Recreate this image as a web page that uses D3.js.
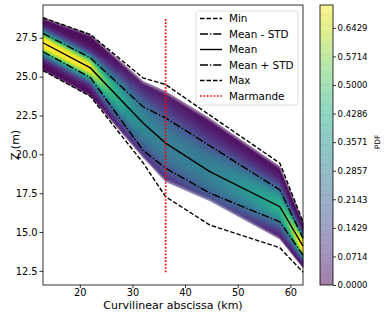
<!DOCTYPE html>
<html>
<head>
<meta charset="utf-8">
<script src="https://cdn.jsdelivr.net/npm/d3@7"></script>
<style>
body { margin: 0; background: #fff; }
text { font-family: "DejaVu Sans", sans-serif; fill: #000; }
</style>
</head>
<body>
<div id="chart"></div>
<script>
// Water level statistics along the river (km -> Z in m)
var stations = [13, 22, 32, 36.3, 44.7, 58, 62.4];
var zMin = [25.39, 23.73, 19.46, 17.27, 15.45, 13.99, 12.41];
var zMeanMinusStd = [26.6, 24.94, 20.26, 19.11, 17.5, 15.66, 13.51];
var zMean = [27.18, 25.56, 22.01, 20.72, 18.89, 16.63, 14.09];
var zMeanPlusStd = [27.78, 26.21, 23.06, 22.34, 20.55, 17.71, 14.61];
var zMax = [28.79, 27.71, 24.92, 24.49, 22.52, 19.43, 15.66];
// extent of the coloured pdf band
var bandTop = [28.79, 27.71, 24.7, 24.05, 22.3, 19.21, 15.66];
var bandBottom = [25.39, 23.73, 19.8, 18.24, 17.0, 14.55, 12.7];
var marmandeKm = 36.3;

var xTicks = [20, 30, 40, 50, 60];
var yTicks = [12.5, 15, 17.5, 20, 22.5, 25, 27.5];
var pdfTicks = [0, 0.0714, 0.1429, 0.2143, 0.2857, 0.3571, 0.4286, 0.5, 0.5714, 0.6429];
var pdfMax = 0.70;

var width = 390, height = 315;
var plot = {left: 43, right: 303, top: 5, bottom: 285};
var cbar = {left: 320, right: 333};

var svg = d3.select("#chart").append("svg")
    .attr("width", width)
    .attr("height", height);

var lo = d3.min(zMin), hi = d3.max(zMax), pad = (hi - lo) * 0.05;
var x = d3.scaleLinear().domain(d3.extent(stations)).range([plot.left, plot.right]);
var y = d3.scaleLinear().domain([lo - pad, hi + pad]).range([plot.bottom, plot.top]);

// piecewise linear along the river
function along(vals) { return d3.scaleLinear().domain(stations).range(vals); }
var topAt = along(bandTop), botAt = along(bandBottom), meanAt = along(zMean);
var sdAt = along(stations.map(function (s, i) { return (zMeanPlusStd[i] - zMeanMinusStd[i]) / 2; }));

// slightly flat-topped bell (kde of the ensemble looks flatter than a gaussian)
function density(z, m, s) {
    var u = Math.abs(z - m) / s;
    return 1.1 * Math.exp(-0.5 * Math.pow(u, 2.5)) / (s * Math.sqrt(2 * Math.PI));
}
function blend(c, a) { return d3.interpolateRgb("#ffffff", c)(a); }

// column edges: every pixel, plus every station
var edges = [];
for (var i = 0; i < stations.length - 1; i++) {
    var n = Math.ceil(x(stations[i + 1]) - x(stations[i]));
    for (var j = 0; j < n; j++) edges.push(stations[i] + (stations[i + 1] - stations[i]) * j / n);
}
edges.push(stations[stations.length - 1]);

function zf(k, t) { return botAt(k) + t * (topAt(k) - botAt(k)); }

var nRow = 70;
var cells = [];
for (var c = 0; c < edges.length - 1; c++) {
    var ka = edges[c], kb = edges[c + 1], km = (ka + kb) / 2;
    for (var r = 0; r < nRow; r++) {
        var t0 = r / nRow, t1 = (r + 1) / nRow, tm = (t0 + t1) / 2;
        var p = density(zf(km, tm), meanAt(km), sdAt(km));
        var edgeDist = Math.min(tm, 1 - tm);
        var a = edgeDist < 0.04 ? 0.5 + 0.45 * edgeDist / 0.04 : 0.95;
        cells.push({
            d: "M" + x(ka) + "," + y(zf(ka, t0)) + "L" + x(kb) + "," + y(zf(kb, t0)) +
               "L" + x(kb) + "," + y(zf(kb, t1)) + "L" + x(ka) + "," + y(zf(ka, t1)) + "Z",
            col: blend(d3.interpolateViridis(Math.min(1, p / pdfMax)), a)
        });
    }
}

svg.append("g").selectAll("path")
    .data(cells)
    .enter()
    .append("path")
    .attr("d", function (d) { return d.d; })
    .attr("fill", function (d) { return d.col; })
    .attr("stroke", function (d) { return d.col; })
    .attr("stroke-width", 0.5);

// statistic lines
var lw = 1.4;
var series = [
    {name: "Min", vals: zMin, dash: "4.5,2"},
    {name: "Mean - STD", vals: zMeanMinusStd, dash: "8,2,1.3,2"},
    {name: "Mean", vals: zMean, dash: null},
    {name: "Mean + STD", vals: zMeanPlusStd, dash: "8,2,1.3,2"},
    {name: "Max", vals: zMax, dash: "4.5,2"}
];
var line = d3.line()
    .x(function (d) { return x(d[0]); })
    .y(function (d) { return y(d[1]); });

svg.append("g").selectAll("path")
    .data(series)
    .enter()
    .append("path")
    .attr("d", function (s) { return line(stations.map(function (k, i) { return [k, s.vals[i]]; })); })
    .attr("fill", "none")
    .attr("stroke", "#000")
    .attr("stroke-width", lw)
    .attr("stroke-dasharray", function (s) { return s.dash; });

svg.append("line")
    .attr("x1", x(marmandeKm)).attr("x2", x(marmandeKm))
    .attr("y1", y(lo)).attr("y2", y(hi))
    .attr("stroke", "#ff0000")
    .attr("stroke-width", 1.7)
    .attr("stroke-dasharray", "1.7,1.7");

// frame and axes
svg.append("rect")
    .attr("x", plot.left).attr("y", plot.top)
    .attr("width", plot.right - plot.left).attr("height", plot.bottom - plot.top)
    .attr("fill", "none").attr("stroke", "#000").attr("stroke-width", 0.8);

var xAxis = svg.append("g")
    .attr("transform", "translate(0," + plot.bottom + ")")
    .call(d3.axisBottom(x).tickValues(xTicks).tickSize(3).tickPadding(1.5).tickFormat(d3.format("d")));
var yAxis = svg.append("g")
    .attr("transform", "translate(" + plot.left + ",0)")
    .call(d3.axisLeft(y).tickValues(yTicks).tickSize(3.5).tickPadding(2).tickFormat(d3.format(".1f")));
[xAxis, yAxis].forEach(function (g) {
    g.select(".domain").remove();
    g.selectAll("line").attr("stroke", "#000").attr("stroke-width", 0.8);
    g.selectAll("text").style("font-family", "DejaVu Sans").style("font-size", "9.8px").attr("fill", "#000");
});

svg.append("text")
    .attr("x", (plot.left + plot.right) / 2).attr("y", 309)
    .attr("text-anchor", "middle")
    .style("font-size", "11px")
    .text("Curvilinear abscissa (km)");

svg.append("text")
    .attr("transform", "translate(19," + (plot.top + plot.bottom) / 2 + ") rotate(-90)")
    .attr("text-anchor", "middle")
    .style("font-size", "11px")
    .text("Z (m)");

// legend
var legend = svg.append("g").attr("transform", "translate(196,11)");
legend.append("rect")
    .attr("width", 102).attr("height", 94).attr("rx", 2.5)
    .attr("fill", "#fff").attr("fill-opacity", 0.8)
    .attr("stroke", "#d6d6d6").attr("stroke-width", 0.8);
var legItems = series.concat([{name: "Marmande", dash: "1.7,1.7", red: true}]);
var li = legend.selectAll("g.item")
    .data(legItems)
    .enter()
    .append("g")
    .attr("class", "item")
    .attr("transform", function (d, i) { return "translate(0," + (7.5 + i * 15.5) + ")"; });
li.append("line")
    .attr("x1", 4).attr("x2", 26)
    .attr("stroke", function (d) { return d.red ? "#ff0000" : "#000"; })
    .attr("stroke-width", function (d) { return d.red ? 1.5 : lw; })
    .attr("stroke-dasharray", function (d) { return d.dash; });
li.append("text")
    .attr("x", 33).attr("dy", "0.35em")
    .style("font-size", "10.4px")
    .text(function (d) { return d.name; });

// colorbar
var cy = d3.scaleLinear().domain([0, pdfMax]).range([plot.bottom, plot.top]);
var grad = svg.append("defs").append("linearGradient")
    .attr("id", "cbgrad").attr("x1", 0).attr("x2", 0).attr("y1", 1).attr("y2", 0);
d3.range(0, 1.0001, 0.05).forEach(function (t) {
    grad.append("stop").attr("offset", t).attr("stop-color", blend(d3.interpolateViridis(t), 0.5));
});
svg.append("rect")
    .attr("x", cbar.left).attr("y", plot.top)
    .attr("width", cbar.right - cbar.left).attr("height", plot.bottom - plot.top)
    .attr("fill", "url(#cbgrad)");
svg.append("g").selectAll("line")
    .data(d3.range(1, 28))
    .enter()
    .append("line")
    .attr("x1", cbar.left).attr("x2", cbar.right)
    .attr("y1", function (k) { return cy(k * pdfMax / 28); })
    .attr("y2", function (k) { return cy(k * pdfMax / 28); })
    .attr("stroke", "#000").attr("stroke-opacity", 0.07).attr("stroke-width", 0.6);
svg.append("rect")
    .attr("x", cbar.left).attr("y", plot.top)
    .attr("width", cbar.right - cbar.left).attr("height", plot.bottom - plot.top)
    .attr("fill", "none").attr("stroke", "#000").attr("stroke-width", 0.8);
var cAxis = svg.append("g")
    .attr("transform", "translate(" + cbar.right + ",0)")
    .call(d3.axisRight(cy).tickValues(pdfTicks).tickSize(3).tickPadding(1.5).tickFormat(d3.format(".4f")));
cAxis.select(".domain").remove();
cAxis.selectAll("line").attr("stroke", "#000").attr("stroke-width", 0.8);
cAxis.selectAll("text").style("font-family", "DejaVu Sans").style("font-size", "8.6px").attr("fill", "#000");

svg.append("text")
    .attr("transform", "translate(380,142) rotate(-90)")
    .attr("text-anchor", "middle")
    .style("font-size", "7.5px")
    .text("PDF");
</script>
</body>
</html>
